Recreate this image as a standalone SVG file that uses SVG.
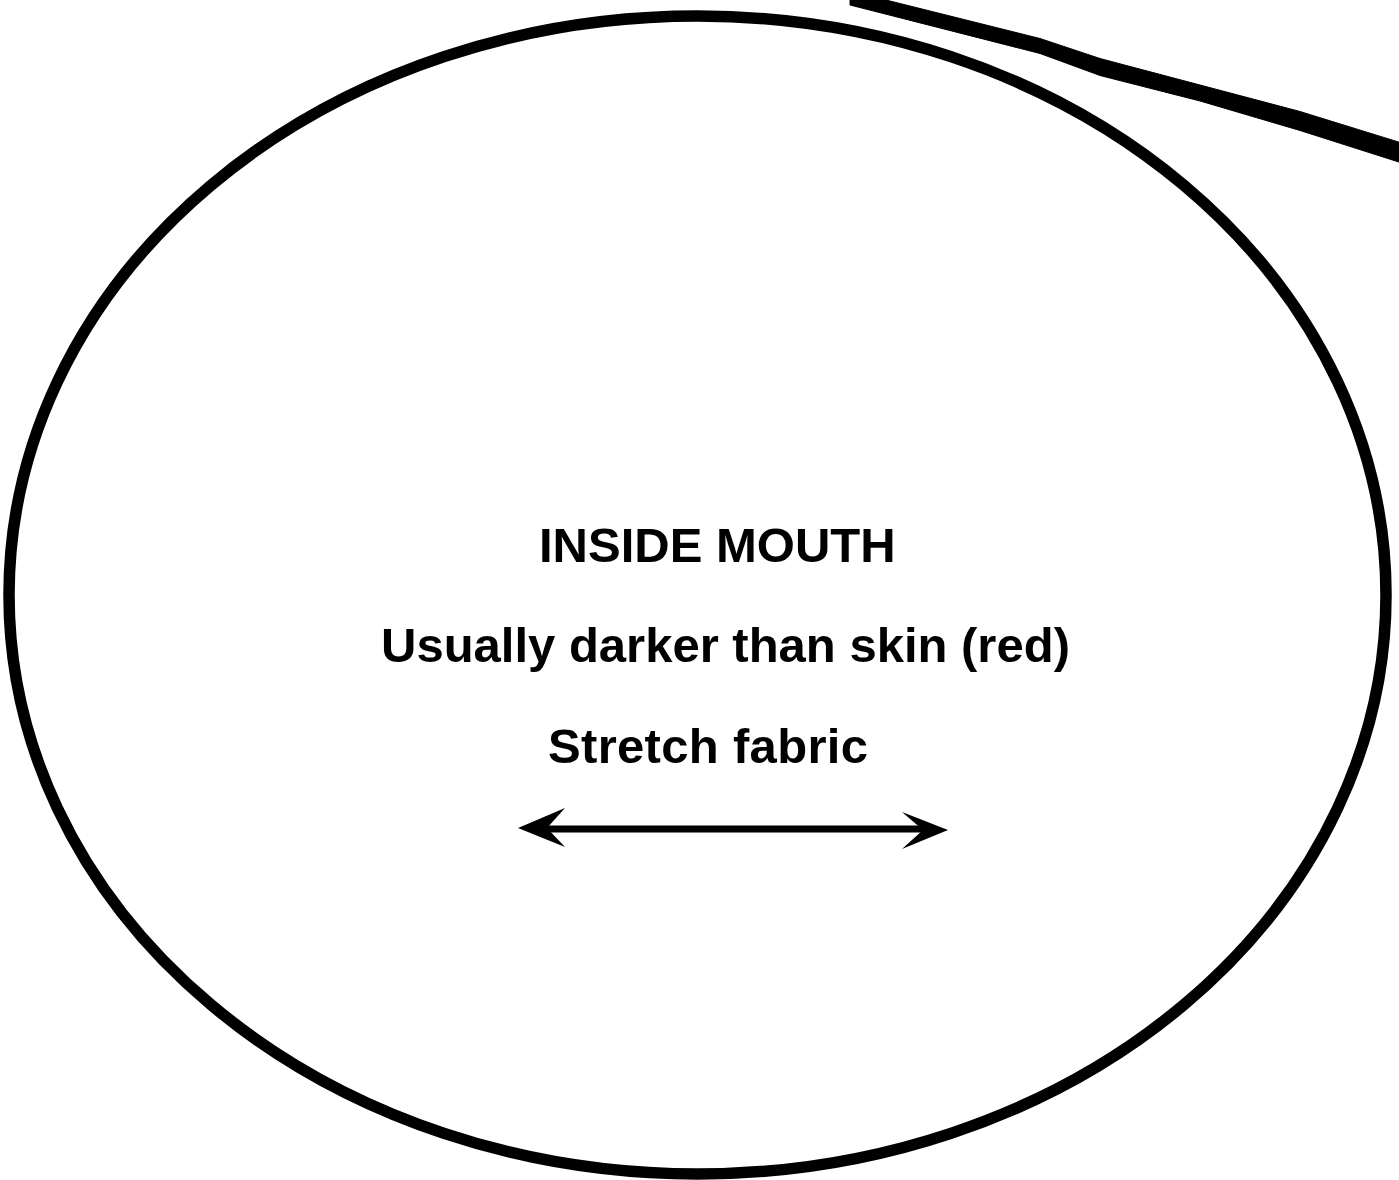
<svg xmlns="http://www.w3.org/2000/svg" width="1399" height="1180" viewBox="0 0 1399 1180">
  <defs>
    <style>
      .lbl { font-family: "Liberation Sans", Arial, sans-serif; font-weight: bold; font-size: 49px; fill: #000; }
      .outline { fill: none; stroke: #000; stroke-width: 11.5; }
    </style>
  </defs>
  <rect width="1399" height="1180" fill="#fff"/>
  <g id="mouth">
    <ellipse class="outline" cx="697.5" cy="595" rx="688.5" ry="579"/>
  </g>
  <g id="connectors">
    <path d="M850,-9 L1040,38.5 L1100,58.5 L1200,85 L1300,111.5 L1405,144 L1405,164 L1300,130.5 L1200,101 L1100,75.5 L1040,53.5 L850,5 Z" fill="#000" stroke="#000" stroke-width="1" stroke-linejoin="round"/>
    <g id="stretch-arrow">
      <line x1="540" y1="829" x2="925" y2="829" stroke="#000" stroke-width="7"/>
      <path d="M518,828 L565,808 L547,828 L565,847 Z" fill="#000"/>
      <path d="M948,830 L902,812 L923,830 L902,849 Z" fill="#000"/>
    </g>
  </g>
  <g id="labels">
    <text class="lbl" x="539" y="562">INSIDE MOUTH</text>
    <text class="lbl" x="381" y="662">Usually darker than skin (red)</text>
    <text class="lbl" x="548" y="763" textLength="320">Stretch fabric</text>
  </g>
</svg>
